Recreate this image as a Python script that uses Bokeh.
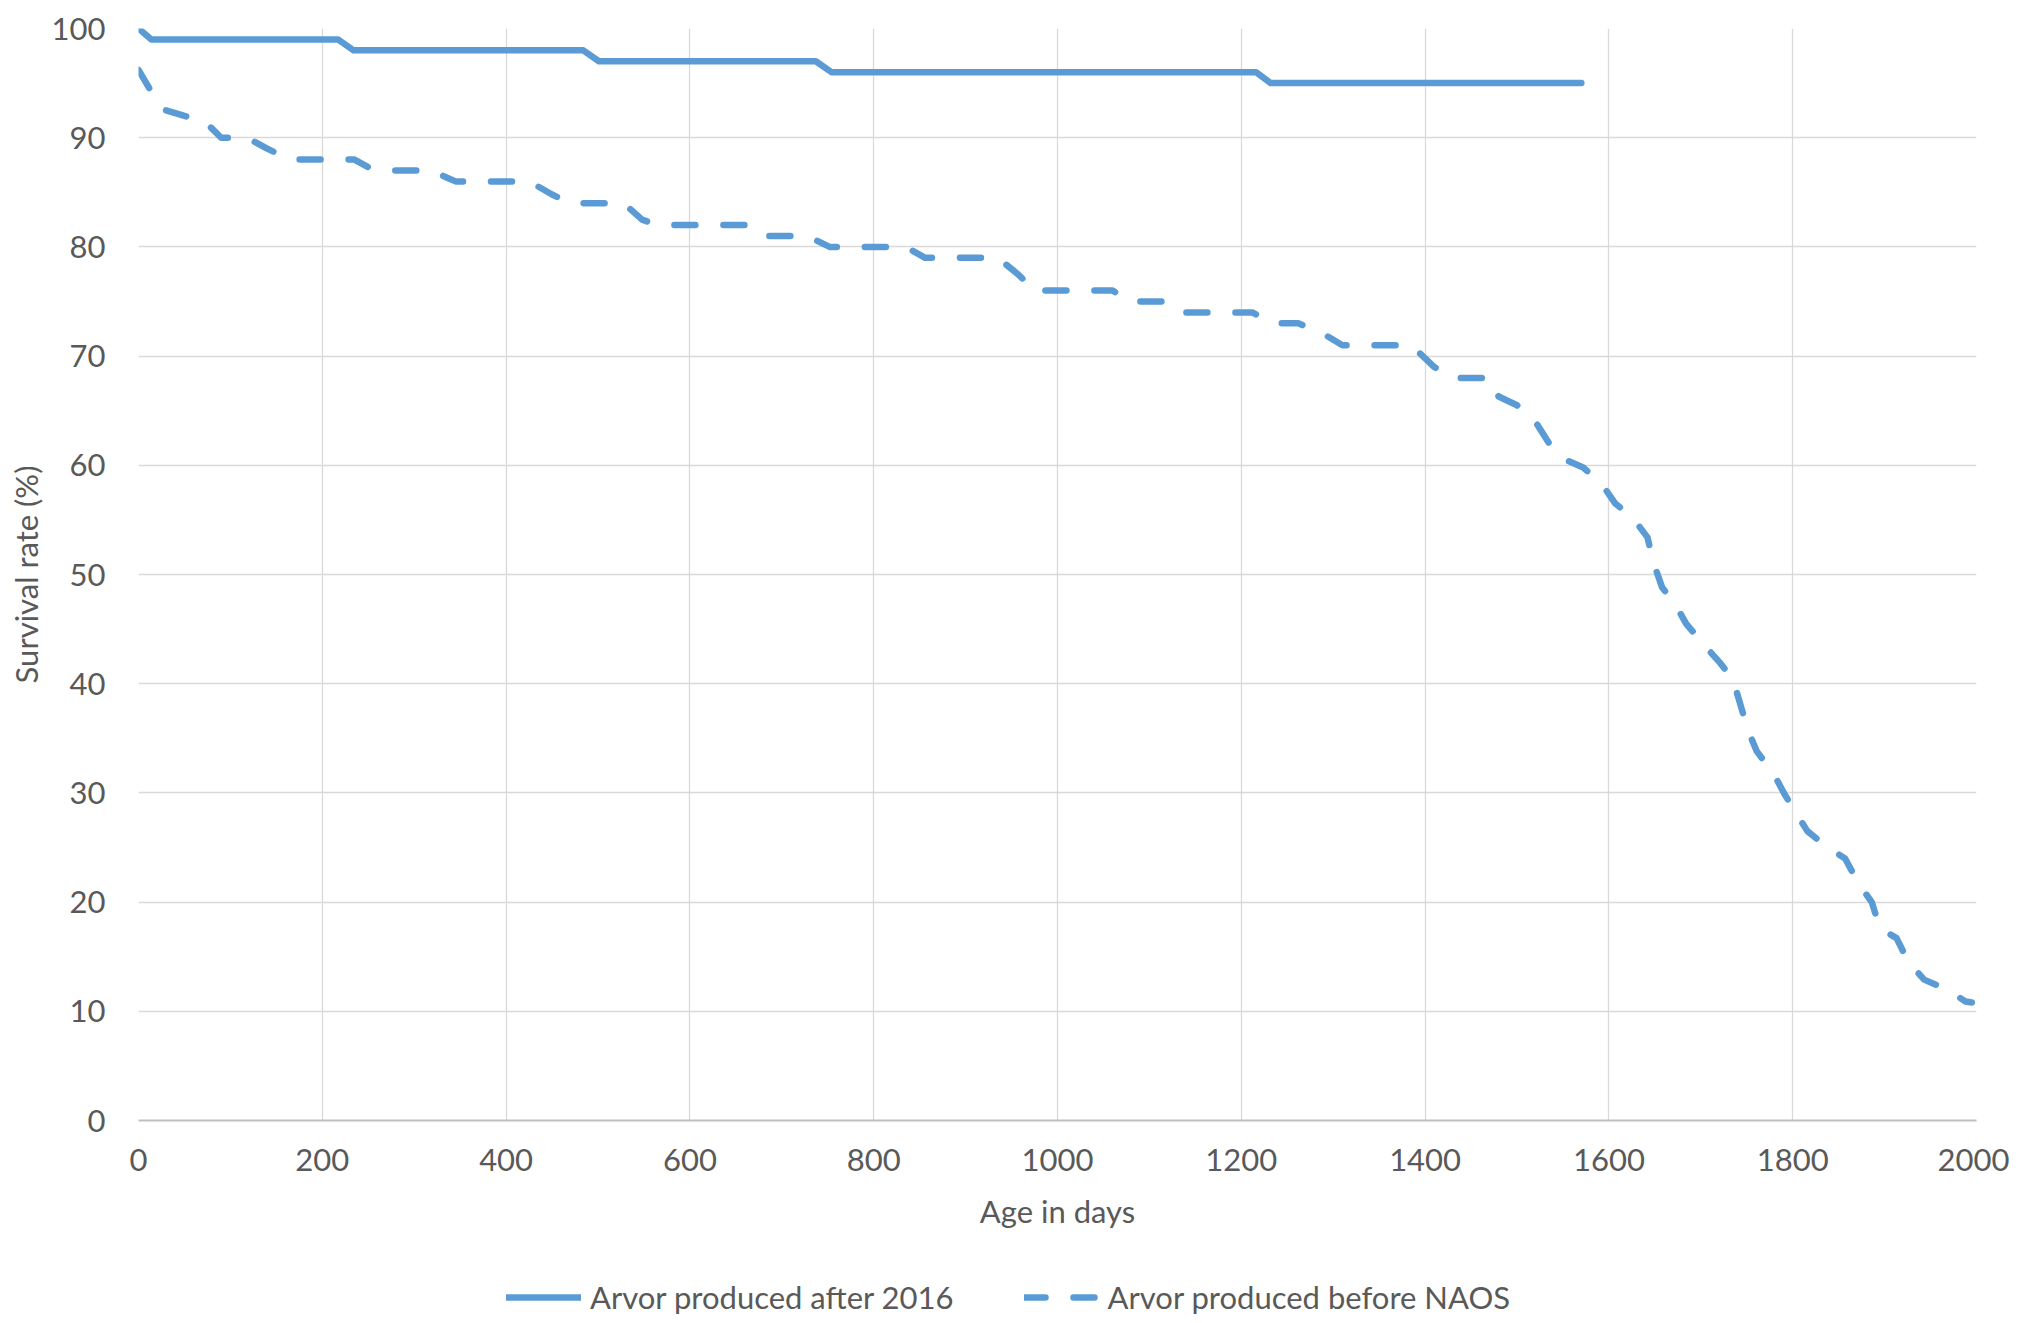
from bokeh.plotting import figure
from bokeh.models import FixedTicker, Legend, LegendItem
from bokeh.layouts import column
from bokeh.embed import file_html
from bokeh.resources import INLINE

# ---- data ----
x_ticks = [0, 200, 400, 600, 800, 1000, 1200, 1400, 1600, 1800, 2000]
y_ticks = [0, 10, 20, 30, 40, 50, 60, 70, 80, 90, 100]

after_label = "Arvor produced after 2016"
after_days = [0, 14, 217, 234, 484, 501, 737, 754, 1216, 1232, 1570]
after_rate = [100, 99, 99, 98, 98, 97, 97, 96, 96, 95, 95]

before_label = "Arvor produced before NAOS"
before_days = [0, 12, 30, 50, 72, 90, 118, 140, 165, 235, 250, 268, 318, 345,
               425, 450, 470, 528, 548, 565, 660, 680, 728, 752, 835, 856,
               935, 957, 975, 1060, 1080, 1115, 1135, 1212, 1235, 1262, 1290,
               1310, 1385, 1410, 1430, 1470, 1480, 1500, 1520, 1535, 1553,
               1572, 1592, 1607, 1626, 1642, 1648, 1658, 1672, 1684, 1703,
               1720, 1735, 1742, 1751, 1761, 1779, 1791, 1804, 1816, 1838,
               1857, 1871, 1886, 1895, 1913, 1926, 1943, 1968, 1988, 1995]
before_rate = [96.2, 94.5, 92.5, 92, 91.5, 90, 90, 89, 88, 88, 87.3, 87, 87, 86,
               86, 84.8, 84, 84, 82.5, 82, 82, 81, 81, 80, 80, 79,
               79, 77.5, 76, 76, 75, 75, 74, 74, 73, 73, 72,
               71, 71, 69, 68, 68, 66.3, 65.5, 64, 62, 60.5,
               59.8, 58.3, 56.5, 55.2, 53.4, 51.2, 48.8, 47.3, 45.5, 43.6,
               42, 40.4, 38.4, 35.8, 33.8, 31.8, 29.9, 28.1, 26.5, 25,
               24, 21.8, 20, 17.6, 16.7, 14.5, 12.9, 12, 10.9, 10.8]

BLUE = "#5B9BD5"
TXT = "#595959"
FONT = "Lato"
FS = "31px"
LW = 6.5
DASH = "21 28"

p = figure(width=2009, height=1277,
           x_range=(0, 2000), y_range=(0, 100),
           output_backend="svg", toolbar_location=None,
           min_border_left=138, min_border_right=33,
           min_border_top=28, min_border_bottom=157)

p.outline_line_color = None
p.background_fill_color = "white"
p.border_fill_color = "white"

p.line(after_days, after_rate, line_color=BLUE, line_width=LW,
       line_join="round", line_cap="round")
p.line(before_days, before_rate, line_color=BLUE, line_width=LW,
       line_join="round", line_cap="round", line_dash=DASH)

for ax, ticks in ((p.xaxis, x_ticks), (p.yaxis, y_ticks)):
    ax.ticker = FixedTicker(ticks=ticks)
    ax.major_tick_line_color = None
    ax.minor_tick_line_color = None
    ax.major_label_text_font = FONT
    ax.major_label_text_font_size = FS
    ax.major_label_text_color = TXT
    ax.axis_label_text_font = FONT
    ax.axis_label_text_font_size = FS
    ax.axis_label_text_color = TXT
    ax.axis_label_text_font_style = "normal"

p.xaxis.axis_label = "Age in days"
p.yaxis.axis_label = "Survival rate (%)"
p.xaxis.axis_line_color = "#BFBFBF"
p.xaxis.axis_line_width = 2
p.yaxis.axis_line_color = None
p.xaxis.major_label_standoff = 22
p.xaxis.axis_label_standoff = 18
p.yaxis.major_label_standoff = 27
p.yaxis.axis_label_standoff = 4

p.xgrid.ticker = FixedTicker(ticks=x_ticks)
p.ygrid.ticker = FixedTicker(ticks=y_ticks)
p.grid.grid_line_color = "#D9D9D9"
p.grid.grid_line_width = 1.3

# legend strip below the chart (legend samples only, no data drawn)
lg = figure(width=2009, height=40, x_range=(0, 1), y_range=(0, 1),
            output_backend="svg", toolbar_location=None,
            x_axis_type=None, y_axis_type=None,
            min_border_left=0, min_border_right=0,
            min_border_top=0, min_border_bottom=0)
lg.outline_line_color = None
lg.grid.visible = False
nan = float("nan")
l1 = lg.line([nan], [nan], line_color=BLUE, line_width=LW, line_cap="round")
l2 = lg.line([nan], [nan], line_color=BLUE, line_width=LW, line_cap="round",
             line_dash=DASH)
legend = Legend(items=[LegendItem(label=after_label, renderers=[l1]),
                       LegendItem(label=before_label, renderers=[l2])],
                orientation="horizontal", location=(368, 1),
                glyph_width=75, glyph_height=30, label_standoff=9, spacing=70,
                label_text_font=FONT, label_text_font_size=FS,
                label_text_color=TXT, border_line_color=None,
                background_fill_alpha=0, margin=0, padding=0)
lg.add_layout(legend, "center")

page = column(p, lg, spacing=0)
open("out.html", "w").write(file_html(page, INLINE))
